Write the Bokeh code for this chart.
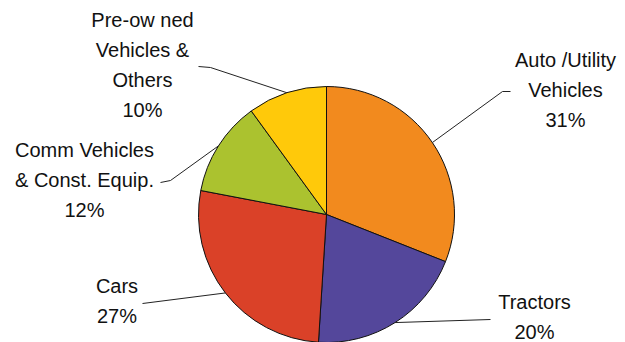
import numpy as np
from bokeh.plotting import figure
from bokeh.models import Range1d, ColumnDataSource
from bokeh.core.properties import value
from bokeh.embed import file_html
from bokeh.resources import INLINE

# ---- data ----
categories = ["Auto /Utility\nVehicles", "Tractors", "Cars",
              "Comm Vehicles\n& Const. Equip.", "Pre-ow ned\nVehicles &\nOthers"]
shares = [31, 20, 27, 12, 10]
colors = ["#F28A1E", "#54479B", "#DA4128", "#ABC22F", "#FFC90A"]

# ---- layout (pixels, y measured from top) ----
W, H = 625, 342
CX, CY, R = 326, 214, 128
label_pos = [(565, 59), (534, 301), (116.5, 285.5), (84, 149), (142, 19)]
leader_pts = [[(502, 91), (510, 91)], [(490, 319)], [(142, 303)],
              [(170, 180), (160, 182)], [(210, 67), (198, 66)]]
LINE_H = 30

vals = np.array(shares, dtype=float)
frac = vals / vals.sum()
cum = np.concatenate([[0], np.cumsum(frac)])
start = np.pi / 2 - 2 * np.pi * cum[:-1]
end = np.pi / 2 - 2 * np.pi * cum[1:]
mid = (start + end) / 2

p = figure(width=W, height=H, x_range=Range1d(0, W), y_range=Range1d(0, H),
           min_border=0, output_backend="svg", toolbar_location=None)
p.axis.visible = False
p.grid.visible = False
p.outline_line_color = None
p.background_fill_color = "white"
p.border_fill_color = "white"

src = ColumnDataSource(dict(x=[CX] * len(shares), y=[H - CY] * len(shares),
                            start=start, end=end, color=colors))
p.wedge(x="x", y="y", radius=R, start_angle="start", end_angle="end",
        direction="clock", fill_color="color", line_color="#111111",
        line_width=1, source=src)

# leader lines
xs, ys = [], []
for m, pts in zip(mid, leader_pts):
    ex = CX + R * np.cos(m)
    ey = (H - CY) + R * np.sin(m)
    xs.append([ex] + [q[0] for q in pts])
    ys.append([ey] + [H - q[1] for q in pts])
p.multi_line(xs=xs, ys=ys, line_color="#222222", line_width=1)

# labels
tx, ty, tt = [], [], []
for cat, s, (lx, ly) in zip(categories, shares, label_pos):
    lines = cat.split("\n") + [f"{s}%"]
    for i, ln in enumerate(lines):
        tx.append(lx)
        ty.append(H - (ly + LINE_H * i))
        tt.append(ln)
p.text(x=tx, y=ty, text=tt, text_align="center", text_baseline="middle",
       text_font=value("Liberation Sans"), text_font_size="20px",
       text_color="#111111")

open("out.html", "w").write(file_html(p, INLINE))
